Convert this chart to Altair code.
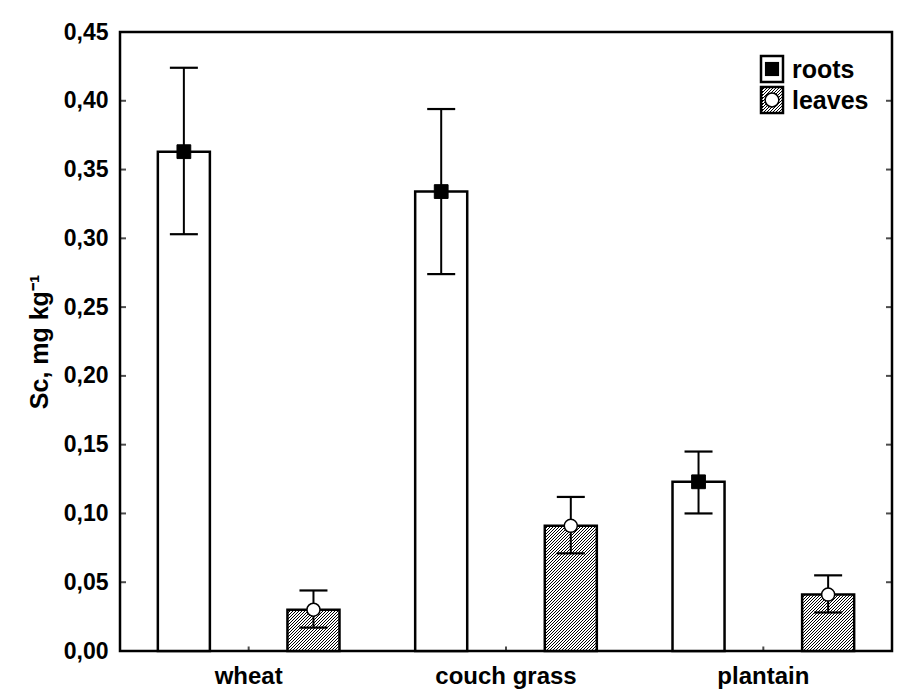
import math
import altair as alt
import pandas as pd

# ---- data ----
categories = ["wheat", "couch grass", "plantain"]
series = ["roots", "leaves"]
roots_mean = [0.363, 0.334, 0.123]
roots_lo = [0.303, 0.274, 0.100]
roots_hi = [0.424, 0.394, 0.145]
leaves_mean = [0.030, 0.091, 0.041]
leaves_lo = [0.017, 0.071, 0.028]
leaves_hi = [0.044, 0.112, 0.055]
y_ticks = [0.0, 0.05, 0.10, 0.15, 0.20, 0.25, 0.30, 0.35, 0.40, 0.45]
y_title = "Sc, mg kg⁻¹"

rows = []
for i, c in enumerate(categories):
    rows.append({"category": c, "series": "roots", "mean": roots_mean[i], "lo": roots_lo[i], "hi": roots_hi[i]})
    rows.append({"category": c, "series": "leaves", "mean": leaves_mean[i], "lo": leaves_lo[i], "hi": leaves_hi[i]})
df = pd.DataFrame(rows)
ticks_df = pd.DataFrame({"tick": y_ticks})

# ---- layout ----
W, H = 772, 619
YMAX = 0.45
P_IN, P_OUT = 0.5985, 0.292
STEP = (W / len(categories)) / (len(series) - P_IN + 2 * P_OUT)
BAR_W = STEP * (1 - P_IN)
FONT = "Liberation Sans"


def hatch(w, h, period=3.0, dark_w=1.02, dark="#000000", light="#ffffff"):
    L = w + h
    n = int(math.ceil(L / period))
    stops = []
    for i in range(n):
        a = min(1.0, round(i * period / L, 6))
        b = min(1.0, round((i * period + dark_w) / L, 6))
        c = min(1.0, round((i + 1) * period / L, 6))
        stops += [
            alt.GradientStop(offset=a, color=dark),
            alt.GradientStop(offset=b, color=dark),
            alt.GradientStop(offset=b, color=light),
            alt.GradientStop(offset=c, color=light),
        ]
    k = L * w / (w * w + h * h)
    return alt.LinearGradient(gradient="linear", stops=stops, x1=0, y1=0, x2=k, y2=k * h / w)


x_enc = alt.X("category:N", sort=categories,
              scale=alt.Scale(domain=categories, paddingInner=0, paddingOuter=0),
              axis=alt.Axis(title=None, ticks=False, domain=False, labelAngle=0,
                            labelFont=FONT, labelFontSize=24, labelFontWeight="bold",
                            labelColor="black", labelPadding=13))
xo_enc = alt.XOffset("series:N", sort=series,
                     scale=alt.Scale(domain=series, paddingInner=P_IN, paddingOuter=P_OUT))
y_axis = alt.Axis(title=y_title, values=y_ticks, ticks=False, domain=False, grid=False,
                  labelExpr="replace(format(datum.value, '.2f'), '.', ',')",
                  labelFont=FONT, labelFontSize=23, labelFontWeight="bold", labelColor="black",
                  labelPadding=12, titleFont=FONT, titleFontSize=25, titleFontWeight="bold",
                  titleColor="black", titlePadding=11)
y_scale = alt.Scale(domain=[0, YMAX], nice=False, zero=True)


def Y(field):
    return alt.Y(field, scale=y_scale, axis=y_axis)


base = alt.Chart(df)

roots_bars = base.transform_filter(alt.datum.series == "roots").mark_bar(
    fill="white", stroke="black", strokeWidth=2.5, opacity=1
).encode(x=x_enc, xOffset=xo_enc, y=Y("mean:Q"))

leaf_layers = []
for i, c in enumerate(categories):
    h_px = leaves_mean[i] / YMAX * H
    leaf_layers.append(
        base.transform_filter((alt.datum.series == "leaves") & (alt.datum.category == c)).mark_bar(
            fill=hatch(BAR_W, h_px), stroke="black", strokeWidth=2.5, opacity=1
        ).encode(x=x_enc, xOffset=xo_enc, y=Y("mean:Q"))
    )

err_rule = base.mark_rule(color="black", strokeWidth=2).encode(
    x=x_enc, xOffset=xo_enc, y=Y("lo:Q"), y2="hi:Q")

caps = base.transform_fold(["lo", "hi"], as_=["end", "val"]).mark_tick(
    orient="horizontal", color="black", size=28, thickness=2.2, opacity=1
).encode(x=x_enc, xOffset=xo_enc, y=Y("val:Q"))

pts_roots = base.transform_filter(alt.datum.series == "roots").mark_point(
    shape="square", filled=True, fill="black", stroke="black", strokeWidth=1, size=190, opacity=1
).encode(x=x_enc, xOffset=xo_enc, y=Y("mean:Q"))

pts_leaves = base.transform_filter(alt.datum.series == "leaves").mark_point(
    shape="circle", filled=True, fill="white", stroke="black", strokeWidth=1.5, size=170, opacity=1
).encode(x=x_enc, xOffset=xo_enc, y=Y("mean:Q"))

# inward ticks on the left and right frame
tick_left = alt.Chart(ticks_df).mark_tick(orient="horizontal", color="black", size=6, thickness=2).encode(
    x=alt.value(3), y=Y("tick:Q"))
tick_right = alt.Chart(ticks_df).mark_tick(orient="horizontal", color="black", size=6, thickness=2).encode(
    x=alt.value(W - 3), y=Y("tick:Q"))
tick_bottom = alt.Chart(pd.DataFrame({"category": categories})).mark_tick(
    orient="vertical", color="black", size=5, thickness=2).encode(x=x_enc, y=alt.value(H - 2))

# ---- legend (top right, inside plot) ----
LX0, LX1 = 641, 663
legend_layers = []
for j, s in enumerate(series):
    y0 = 24 + j * 31
    y1 = y0 + 26
    ldf = pd.DataFrame({"series": [s]})
    lc = alt.Chart(ldf)
    box_fill = "white" if s == "roots" else hatch(LX1 - LX0, y1 - y0)
    legend_layers.append(lc.mark_rect(fill=box_fill, stroke="black", strokeWidth=2.5).encode(
        x=alt.value(LX0), x2=alt.value(LX1), y=alt.value(y0), y2=alt.value(y1)))
    if s == "roots":
        legend_layers.append(lc.mark_point(shape="square", filled=True, fill="black", size=200, opacity=1).encode(
            x=alt.value((LX0 + LX1) / 2), y=alt.value((y0 + y1) / 2)))
    else:
        legend_layers.append(lc.mark_point(shape="circle", filled=True, fill="white", stroke="black",
                                           strokeWidth=1.5, size=190, opacity=1).encode(
            x=alt.value((LX0 + LX1) / 2), y=alt.value((y0 + y1) / 2)))
    legend_layers.append(lc.mark_text(align="left", baseline="middle", font=FONT, fontSize=25,
                                      fontWeight="bold", color="black").encode(
        x=alt.value(LX1 + 9), y=alt.value((y0 + y1) / 2 + 1), text="series:N"))

chart = alt.layer(
    roots_bars, *leaf_layers, err_rule, caps, pts_roots, pts_leaves,
    tick_left, tick_right, tick_bottom, *legend_layers
).properties(
    width=W, height=H,
    autosize=alt.AutoSizeParams(type="none"),
    padding={"left": 120, "top": 32, "right": 17, "bottom": 44},
    background="white",
).configure_view(stroke="black", strokeWidth=2.5)

chart.save("out.html", embed_options={"renderer": "svg", "actions": False})
